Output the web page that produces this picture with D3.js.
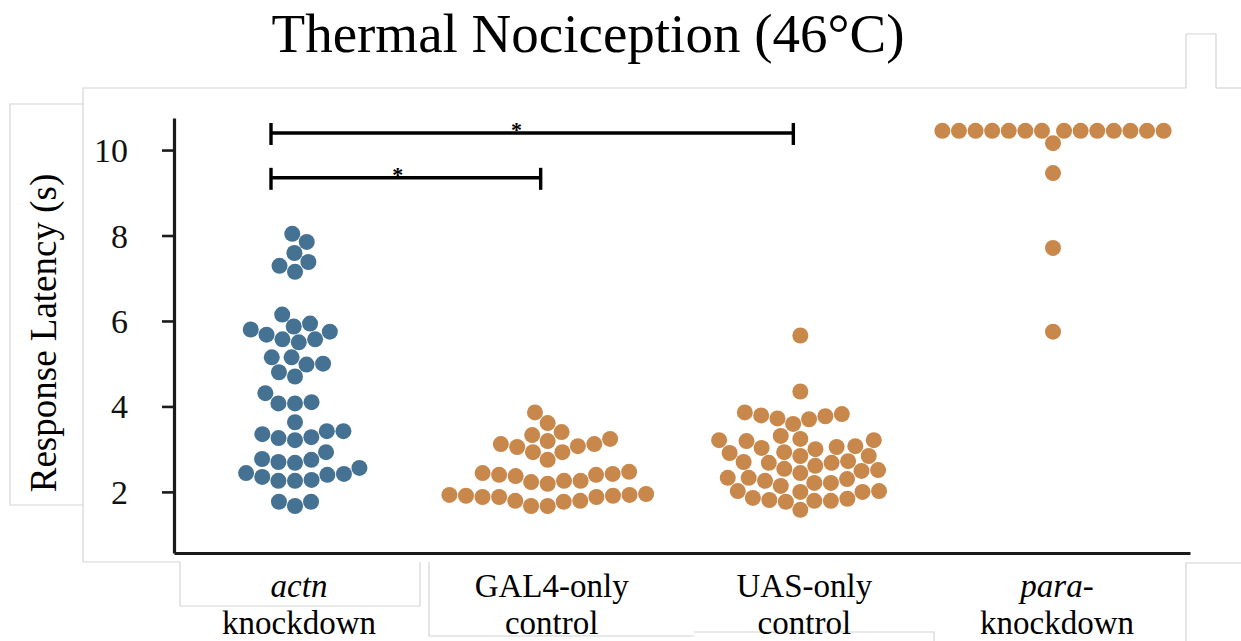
<!DOCTYPE html>
<html>
<head>
<meta charset="utf-8">
<script src="https://cdn.jsdelivr.net/npm/d3@7"></script>
<style>
  body { margin: 0; background: #fff; }
  svg { display: block; font-family: "Liberation Serif", "Times New Roman", serif; }
</style>
</head>
<body>
<svg width="1241" height="641"></svg>
<script>
// groups along the x axis
var groups = ["actn", "GAL4", "UAS", "para"];
var groupLine1 = ["actn", "GAL4-only", "UAS-only", "para"];
var groupLine2 = ["knockdown", "control", "control", "knockdown"];
var italicFirst = [true, false, false, true];

// response latency (s), one array per group
var actn = [8.04, 7.85, 7.59, 7.38, 7.29, 7.15, 6.15, 5.94, 5.87, 5.80, 5.75, 5.68,
  5.57, 5.57, 5.50, 5.15, 5.15, 5.00, 4.98, 4.80, 4.70, 4.31, 4.10, 4.07,
  4.07, 3.63, 3.42, 3.42, 3.35, 3.28, 3.26, 3.21, 2.93, 2.77, 2.75, 2.70,
  2.68, 2.56, 2.44, 2.42, 2.40, 2.35, 2.28, 2.26, 2.26, 1.77, 1.77, 1.67];
var gal4 = [3.86, 3.61, 3.40, 3.33, 3.24, 3.19, 3.12, 3.12, 3.07, 3.05, 2.93, 2.93,
  2.75, 2.47, 2.44, 2.42, 2.40, 2.40, 2.37, 2.26, 2.26, 2.23, 2.19, 1.95,
  1.93, 1.93, 1.91, 1.91, 1.88, 1.88, 1.88, 1.79, 1.79, 1.77, 1.67, 1.67];
var uas = [5.66, 4.35, 3.86, 3.82, 3.79, 3.77, 3.72, 3.70, 3.59, 3.31, 3.24, 3.21,
  3.21, 3.19, 3.07, 3.05, 3.03, 3.00, 2.93, 2.91, 2.84, 2.84, 2.72, 2.70,
  2.68, 2.68, 2.61, 2.54, 2.51, 2.49, 2.44, 2.33, 2.33, 2.30, 2.26, 2.21,
  2.21, 2.14, 2.02, 2.02, 2.00, 2.00, 1.86, 1.84, 1.81, 1.79, 1.79, 1.77, 1.58];
var para = [10.45, 10.45, 10.45, 10.45, 10.45, 10.45, 10.45, 10.45, 10.45, 10.45,
  10.45, 10.45, 10.45, 10.45, 10.16, 9.46, 7.71, 5.75];
var groupValues = [actn, gal4, uas, para];
var groupColors = ["#457293", "#c8874b", "#c8874b", "#c8874b"];

var yTicks = [2, 4, 6, 8, 10];

// significance brackets
var sigFrom = ["actn", "actn"];
var sigTo = ["UAS", "GAL4"];
var sigLevel = [10.4, 9.35];
var sigText = ["*", "*"];

var svg = d3.select("svg"),
    width = +svg.attr("width"),
    height = +svg.attr("height");

var axisColor = "#1b1b1b",
    boxColor = "#d4d4d4",
    r = 8,
    dia = 16.6;

// faint panel outlines from the original figure
var outlines = [
  [[83, 562], [83, 88], [1186, 88]],
  [[1216, 88], [1241, 88]],
  [[1186, 88], [1186, 34], [1216, 34], [1216, 88]],
  [[83, 104], [10, 104], [10, 505], [83, 505]],
  [[83, 562], [180, 562], [180, 606], [420, 606], [420, 562]],
  [[429, 562], [429, 636], [694, 636]],
  [[694, 632], [934, 632], [934, 641]],
  [[1186, 641], [1186, 563], [1241, 563]]
];
svg.selectAll(".outline")
    .data(outlines)
    .enter()
    .append("path")
    .attr("class", "outline")
    .attr("d", d3.line())
    .attr("fill", "none")
    .attr("stroke", boxColor)
    .attr("stroke-width", 1.2);

var y = d3.scaleLinear().domain([0.57, 10.75]).range([553, 118]);
var x = d3.scalePoint().domain(groups).range([295, 1053]);

// title
svg.append("text")
    .attr("x", 588)
    .attr("y", 52)
    .attr("text-anchor", "middle")
    .style("font-size", "55px")
    .text("Thermal Nociception (46°C)");

// y axis
var yAxis = svg.append("g")
    .attr("transform", "translate(174,0)")
    .call(d3.axisLeft(y).tickValues(yTicks).tickSize(12).tickSizeOuter(0).tickPadding(34));
yAxis.select(".domain").attr("stroke", axisColor).attr("stroke-width", 3.2);
yAxis.selectAll(".tick line").attr("stroke", axisColor).attr("stroke-width", 2.6);
yAxis.selectAll(".tick text")
    .attr("fill", "#111")
    .attr("dy", "0.34em")
    .style("font-family", "'Liberation Serif', 'Times New Roman', serif")
    .style("font-size", "34px");

// x axis (line only)
var xLine = d3.scaleLinear().range([174, 1190]);
var xAxis = svg.append("g")
    .attr("transform", "translate(0,553)")
    .call(d3.axisBottom(xLine).ticks(0).tickSizeOuter(0));
xAxis.select(".domain").attr("stroke", axisColor).attr("stroke-width", 3.2);

svg.append("text")
    .attr("transform", "translate(56,333) rotate(-90)")
    .attr("text-anchor", "middle")
    .style("font-size", "37px")
    .text("Response Latency (s)");

// group labels
groupLine1.forEach(function (t, i) {
    var lbl = svg.append("text")
        .attr("x", x(groups[i]) + 4)
        .attr("y", 597)
        .attr("text-anchor", "middle")
        .style("font-size", "33px");
    if (i == 3) {
        lbl.append("tspan").style("font-style", "italic").text(t);
        lbl.append("tspan").text("-");
    } else {
        lbl.text(t).style("font-style", italicFirst[i] ? "italic" : "normal");
    }
    svg.append("text")
        .attr("x", x(groups[i]) + 4)
        .attr("y", 634)
        .attr("text-anchor", "middle")
        .style("font-size", "33px")
        .text(groupLine2[i]);
});

// swarm layout: place points in value order, nearest free spot to the centre
function swarm(values) {
    var pts = values.map(function (v) { return {v: v, py: y(v)}; })
        .sort(function (a, b) { return a.v - b.v; });
    var placed = [];
    pts.forEach(function (p) {
        var cands = [0];
        placed.forEach(function (q) {
            var dy = Math.abs(q.py - p.py);
            if (dy < dia) {
                var off = Math.sqrt(dia * dia - dy * dy);
                cands.push(q.dx - off, q.dx + off);
            }
        });
        cands.sort(function (a, b) { return Math.abs(a) - Math.abs(b); });
        for (var k = 0; k < cands.length; k++) {
            var ok = placed.every(function (q) {
                var ddx = q.dx - cands[k], ddy = q.py - p.py;
                return ddx * ddx + ddy * ddy >= dia * dia - 0.01;
            });
            if (ok) { p.dx = cands[k]; break; }
        }
        placed.push(p);
    });
    return placed;
}

groups.forEach(function (g, i) {
    var pts = swarm(groupValues[i]);
    svg.append("g")
        .selectAll("circle")
        .data(pts)
        .enter()
        .append("circle")
        .attr("cx", function (d) { return x(g) + d.dx; })
        .attr("cy", function (d) { return d.py; })
        .attr("r", r)
        .attr("fill", groupColors[i]);
});

// significance brackets
sigFrom.forEach(function (a, i) {
    var x1 = x(a) - 24,
        x2 = x(sigTo[i]) - 7,
        yy = y(sigLevel[i]);
    var br = svg.append("g").attr("stroke", "#000").attr("stroke-width", 3.4);
    br.append("line").attr("x1", x1).attr("x2", x2).attr("y1", yy).attr("y2", yy);
    br.append("line").attr("x1", x1).attr("x2", x1).attr("y1", yy - 10).attr("y2", yy + 12);
    br.append("line").attr("x1", x2).attr("x2", x2).attr("y1", yy - 10).attr("y2", yy + 12);
    svg.append("text")
        .attr("x", x1 + (x2 - x1) * 0.47)
        .attr("y", yy + 4)
        .attr("text-anchor", "middle")
        .style("font-size", "22px")
        .style("font-weight", "bold")
        .text(sigText[i]);
});
</script>
</body>
</html>
